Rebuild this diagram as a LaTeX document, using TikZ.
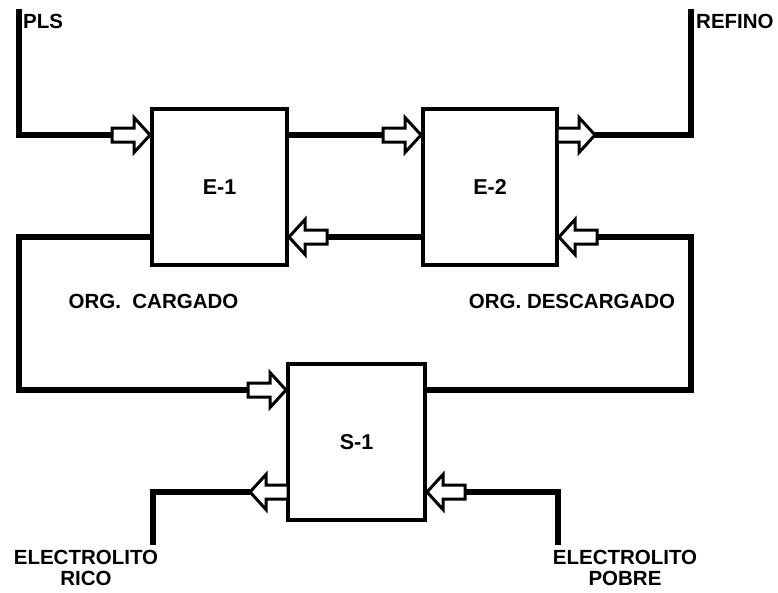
\documentclass[tikz,border=0pt]{standalone}
\usepackage{fontspec}
\setmainfont{Liberation Sans}
\begin{document}
\begin{tikzpicture}[x=1pt,y=-1pt,
  box/.style={draw,line width=4pt,minimum height=156pt,inner sep=0pt,
    font=\fontsize{21.5}{22}\selectfont\bfseries},
  flow/.style={line width=6.5pt,line join=miter,line cap=butt},
  lbl/.style={inner sep=0pt,font=\fontsize{20.5}{21}\selectfont\bfseries,align=center},
  barrow/.pic={\draw[line width=3pt,fill=white,line join=miter]
    (-38,-7) -- (-16,-7) -- (-16,-17.5) -- (0,0) -- (-16,17.5) -- (-16,7) -- (-38,7) -- cycle;}
]
\useasboundingbox (0,0) rectangle (778,592);
% boxes
\node[box,minimum width=135pt] (e1) at (219.5,187) {E-1};
\node[box,minimum width=134pt] (e2) at (490,187) {E-2};
\node[box,minimum width=137pt] (s1) at (356.5,442) {S-1};
% coordinates
\coordinate (plstop) at (19,9);
\coordinate (reftop) at (691,9);
\coordinate (a1) at (113,135);
\coordinate (a2) at (385,135);
\coordinate (a3) at (595,135);
\coordinate (a4) at (327,237);
\coordinate (a5) at (597,237);
\coordinate (rloop) at (691,237);
\coordinate (lloop) at (19,390);
\coordinate (a6) at (250,390);
\coordinate (b1) at (250,492);
\coordinate (b2) at (465,492);
\coordinate (ertop) at (153,545);
\coordinate (eptop) at (558,545);
% flow lines
\draw[flow] (plstop) |- (a1);
\draw[flow] (e1.east |- a1) -- (a2);
\draw[flow] (a3) -| (reftop);
\draw[flow] (e2.west |- a4) -- (a4);
\draw[flow] (s1.east |- a6) -| (rloop) -- (a5);
\draw[flow] (e1.west |- a4) -| (lloop) -- (a6);
\draw[flow] (b1) -| (ertop);
\draw[flow] (eptop) |- (b2);
% block arrows
\pic at (e1.west |- a1) {barrow};
\pic at (e2.west |- a2) {barrow};
\pic at (a3) {barrow};
\pic[rotate=180] at (e1.east |- a4) {barrow};
\pic[rotate=180] at (e2.east |- a5) {barrow};
\pic at (s1.west |- a6) {barrow};
\pic[rotate=180] at (b1) {barrow};
\pic[rotate=180] at (s1.east |- b2) {barrow};
% labels
\node[lbl,anchor=west] (pls) at (23,21) {PLS};
\node[lbl,anchor=west] (refino) at (696,21.5) {REFINO};
\node[lbl] (orgc) at (153.5,301) {ORG.\ \ CARGADO};
\node[lbl] (orgd) at (572,301) {ORG. DESCARGADO};
\node[lbl] (er) at (86,568) {ELECTROLITO\\RICO};
\node[lbl] (ep) at (625,568) {ELECTROLITO\\POBRE};
\end{tikzpicture}
\end{document}
